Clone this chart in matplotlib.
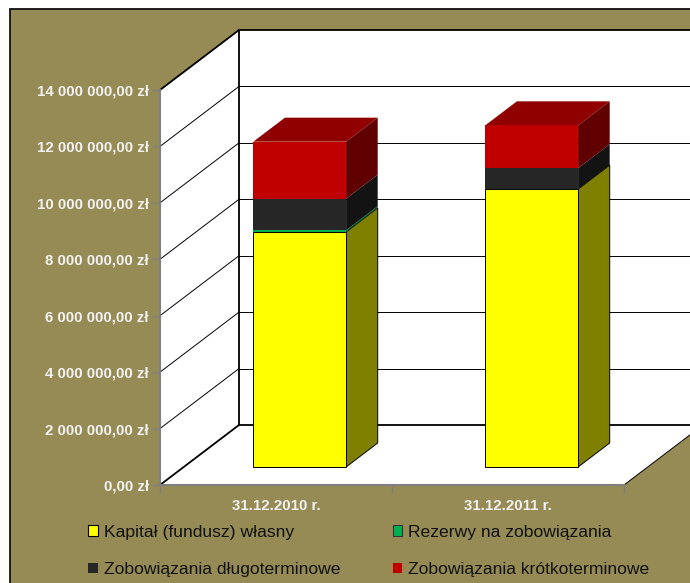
import matplotlib
matplotlib.use("Agg")
import matplotlib.pyplot as plt
from matplotlib.patches import Patch, Polygon, Rectangle

plt.rcParams['font.family'] = ['Liberation Sans', 'DejaVu Sans']

dates = ['31.12.2010 r.', '31.12.2011 r.']
capital = [8330000, 9850000]
reserves = [60000, 0]
long_term = [1120000, 740000]
short_term = [2020000, 1520000]

series_names = ['Kapitał (fundusz) własny', 'Rezerwy na zobowiązania',
                'Zobowiązania długoterminowe', 'Zobowiązania krótkoterminowe']
y_ticks = [0, 2000000, 4000000, 6000000, 8000000, 10000000, 12000000, 14000000]

BG = '#968A55'
W, H = 690, 583
# colours: front, side, top
COLOURS = [('#FFFF00', '#808000', '#808000'),
           ('#00B050', '#005828', '#005828'),
           ('#262626', '#131313', '#131313'),
           ('#C00000', '#600000', '#900000')]

# 3d look: how far the back wall sits from the front plane, in data units
DX = 79 / 232
DY = 60 / 395 * 14000000
BAR_W = 0.4


def money(v):
    s = f'{v:,.2f}'.replace(',', ' ').replace('.', ',')
    return s + ' zł'


def shift(x, y, d):
    return (x + DX * d, y + DY * d)


fig = plt.figure(figsize=(W / 100, H / 100), dpi=100, facecolor='white')
fig.patches.append(Rectangle((9.5 / W, -0.1), 1, 1.1 - 9.5 / H, transform=fig.transFigure,
                             facecolor=BG, edgecolor='#111111', linewidth=1.3, zorder=-1))

ax = fig.add_axes([160 / W, 1 - 485 / H, 464 / W, 395 / H])
ax.set_xlim(-0.5, 1.5)
ax.set_ylim(0, 14000000)
ax.patch.set_visible(False)
for side in ['top', 'right']:
    ax.spines[side].set_visible(False)
for side in ['left', 'bottom']:
    ax.spines[side].set_color('#808080')
    ax.spines[side].set_linewidth(1.5)
    ax.spines[side].set_zorder(6)

# walls and floor
x0, x1 = -0.5, 1.5
top = y_ticks[-1]
ax.add_patch(Polygon([(x0, 0), shift(x0, 0, 1), shift(x1, 0, 1), (x1, 0)],
                     facecolor='white', edgecolor='none', clip_on=False, zorder=1))
ax.add_patch(Polygon([(x0, 0), shift(x0, 0, 1), shift(x0, top, 1), (x0, top)],
                     facecolor='white', edgecolor='none', clip_on=False, zorder=1))
ax.add_patch(Polygon([shift(x0, 0, 1), shift(x1, 0, 1), shift(x1, top, 1), shift(x0, top, 1)],
                     facecolor='white', edgecolor='none', clip_on=False, zorder=1))

for v in y_ticks:
    lw = 1.3 if v in (0, top) else 0.7
    p = shift(x0, v, 1)
    q = shift(x1, v, 1)
    ax.plot([x0, p[0]], [v, p[1]], color='black', lw=lw, clip_on=False, zorder=2)
    ax.plot([p[0], q[0]], [p[1], q[1]], color='black', lw=lw, clip_on=False, zorder=2)
p = shift(x0, 0, 1)
ax.plot([p[0], p[0]], [p[1], p[1] + top], color='black', lw=1.3, clip_on=False, zorder=2)
p = shift(x1, 0, 1)
ax.plot([x1, p[0]], [0, p[1]], color='black', lw=0.7, clip_on=False, zorder=2)

# stacked bars
for i in range(len(dates)):
    left = i - BAR_W / 2
    right = i + BAR_W / 2
    base = 0
    for j, vals in enumerate([capital, reserves, long_term, short_term]):
        v = vals[i]
        if v == 0:
            continue
        front, side_c, top_c = COLOURS[j]
        a, b = base, base + v
        edge = 'black' if j == 0 else 'none'
        z = 3 + j * 0.1
        ax.add_patch(Polygon([shift(right, a, 0.3), shift(right, a, 0.7), shift(right, b, 0.7), shift(right, b, 0.3)],
                             facecolor=side_c, edgecolor=edge, lw=0.7, clip_on=False, zorder=z))
        ax.add_patch(Polygon([shift(left, a, 0.3), shift(right, a, 0.3), shift(right, b, 0.3), shift(left, b, 0.3)],
                             facecolor=front, edgecolor=edge, lw=0.7, clip_on=False, zorder=z))
        base = b
    ax.add_patch(Polygon([shift(left, base, 0.3), shift(right, base, 0.3), shift(right, base, 0.7), shift(left, base, 0.7)],
                         facecolor=COLOURS[3][2], edgecolor='none', clip_on=False, zorder=4))

ax.set_yticks(y_ticks)
ax.set_yticklabels([money(v) for v in y_ticks], fontsize=10.8, fontweight='bold', color='#F2F2F2')
ax.set_xticks([-0.5, 0.5, 1.5])
ax.set_xticklabels([])
ax.set_xticks([0, 1], minor=True)
ax.set_xticklabels(dates, minor=True, fontsize=10.8, fontweight='bold', color='#F2F2F2')
ax.tick_params(axis='x', which='minor', length=0, pad=10)
ax.tick_params(axis='both', which='major', length=6, width=1, color='#808080', pad=2)

handles = [Patch(facecolor=COLOURS[0][0], edgecolor='black', lw=0.8),
           Patch(facecolor=COLOURS[2][0], edgecolor='none'),
           Patch(facecolor=COLOURS[1][0], edgecolor='#333333', lw=0.8),
           Patch(facecolor=COLOURS[3][0], edgecolor='none')]
labels = [series_names[0], series_names[2], series_names[1], series_names[3]]
fig.legend(handles, labels, ncol=2, frameon=False, fontsize=12.6, labelcolor='#111111',
           loc='upper left', bbox_to_anchor=(84.5 / W, 1 - 521 / H),
           handlelength=0.55, handleheight=0.55, handletextpad=0.35,
           columnspacing=3.0, labelspacing=1.3, borderpad=0.2, borderaxespad=0)

fig.savefig('out.png', dpi=100)
